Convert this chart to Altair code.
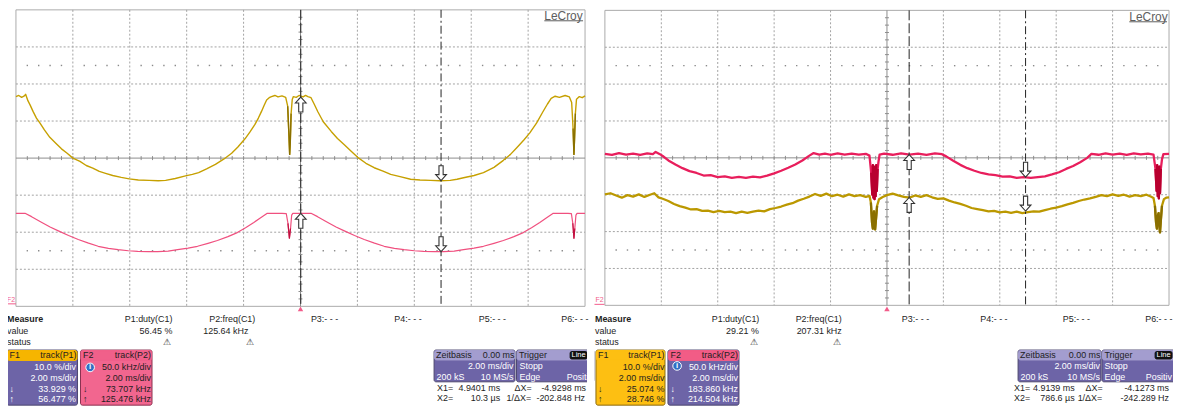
import altair as alt
import pandas as pd

# ---------------- values read from the two LeCroy screens ----------------
# time in ms (2 ms/div, -10..10), F1 = duty cycle in %, F2 = frequency in kHz
L_DUTY = [(-10.0,56.6),(-9.9,56.9),(-9.8,56.4),(-9.72,56.7),(-9.66,57.2),(-9.58,55.5),(-9.5,54.3),(-9.4,52.6),(-9.28,50.8),(-9.16,49.5),
          (-9.0,47.6),(-8.81,45.6),(-8.6,44.0),(-8.4,42.5),(-8.2,41.3),(-8.0,40.0),(-7.75,39.1),(-7.53,38.0),(-7.3,37.3),(-7.07,36.4),
          (-6.85,35.9),(-6.6,35.3),(-6.3,34.8),(-6.02,34.4),(-5.7,34.1),(-5.32,34.0),(-5.0,33.9),(-4.74,34.0),(-4.4,34.5),(-4.04,35.2),
          (-3.8,35.6),(-3.58,36.1),(-3.3,37.1),(-2.99,38.3),(-2.7,39.7),(-2.42,41.3),(-2.2,43.0),(-1.95,45.2),(-1.78,47.0),(-1.6,49.1),
          (-1.48,50.8),(-1.37,52.6),(-1.28,54.2),(-1.19,55.7),(-1.1,56.3),(-1.02,56.6),(-0.9,56.9),(-0.79,56.5),(-0.65,56.8),(-0.52,56.4),
          (-0.45,54.0),(-0.41,47.0),(-0.38,41.0),(-0.36,44.0),(-0.33,52.0),(-0.29,55.8),(-0.25,56.6),(-0.15,56.4),(-0.05,56.9),(0.09,56.5),
          (0.18,56.9),(0.26,56.6),(0.37,56.3),(0.48,54.6),(0.61,52.5),(0.8,49.8),(1.08,47.2),(1.3,45.3),(1.54,43.6),(1.8,41.7),
          (2.01,40.2),(2.3,38.6),(2.59,37.4),(2.9,36.5),(3.17,35.6),(3.5,35.0),(3.87,34.3),(4.2,34.1),(4.57,34.0),(4.9,33.9),
          (5.26,34.0),(5.5,34.3),(5.73,34.7),(6.1,35.3),(6.43,36.1),(6.8,37.5),(7.13,39.4),(7.38,41.0),(7.6,42.8),(7.85,44.9),
          (8.06,46.8),(8.3,49.5),(8.52,52.5),(8.68,54.6),(8.81,56.1),(8.95,56.7),(9.1,56.4),(9.3,56.9),(9.45,56.5),(9.53,55.0),
          (9.58,48.0),(9.61,41.0),(9.63,45.0),(9.66,52.0),(9.7,55.9),(9.8,56.6),(9.9,56.3),(10.0,56.8)]

L_FREQ = [(-10.0,125.4),(-9.68,125.5),(-9.45,121.0),(-9.09,113.2),(-8.8,107.0),(-8.51,101.8),(-8.15,95.5),(-7.81,90.2),(-7.45,85.2),(-7.11,81.0),
          (-6.75,78.3),(-6.41,76.4),(-6.05,75.0),(-5.72,74.2),(-5.35,73.8),(-5.02,73.8),(-4.65,74.5),(-4.32,76.4),(-3.95,78.5),(-3.62,81.0),
          (-3.25,85.0),(-2.92,88.8),(-2.55,94.0),(-2.22,99.5),(-1.93,106.0),(-1.64,113.2),(-1.4,119.5),(-1.18,125.3),(-0.95,125.6),(-0.65,125.4),
          (-0.5,125.0),(-0.44,112.0),(-0.39,92.0),(-0.35,105.0),(-0.31,123.0),(-0.27,125.5),(0.0,125.5),(0.2,125.4),(0.37,125.5),(0.6,121.0),
          (0.96,113.2),(1.25,107.0),(1.54,101.8),(1.9,95.5),(2.24,90.2),(2.6,85.2),(2.94,81.0),(3.3,78.3),(3.64,76.4),(4.0,75.0),
          (4.33,74.2),(4.7,73.8),(5.03,73.8),(5.4,74.5),(5.73,76.4),(6.1,78.5),(6.43,81.0),(6.8,85.0),(7.13,88.8),(7.5,94.0),
          (7.83,99.5),(8.12,106.0),(8.41,113.2),(8.65,119.5),(8.87,125.3),(9.1,125.6),(9.4,125.4),(9.52,125.0),(9.57,112.0),(9.61,92.0),
          (9.64,105.0),(9.68,123.0),(9.72,125.5),(10.0,125.4)]

R_DUTY = [(-10.0,29.6),(-9.8,29.9),(-9.6,29.3),(-9.4,28.7),(-9.2,29.4),(-9.0,29.0),(-8.8,29.6),(-8.6,28.9),(-8.4,29.5),(-8.25,29.9),
          (-8.1,28.8),(-7.95,28.4),(-7.75,27.8),(-7.55,27.0),(-7.35,26.4),(-7.15,26.0),(-6.95,25.5),(-6.75,25.6),(-6.55,25.1),(-6.35,25.2),
          (-6.15,24.8),(-5.95,25.1),(-5.75,24.8),(-5.55,24.9),(-5.35,24.5),(-5.15,24.9),(-4.95,24.6),(-4.75,24.9),(-4.55,25.2),(-4.35,25.0),
          (-4.15,25.6),(-3.95,25.9),(-3.75,26.3),(-3.55,26.8),(-3.35,27.2),(-3.15,27.9),(-2.95,28.4),(-2.75,29.0),(-2.55,29.7),(-2.35,29.2),
          (-2.15,29.8),(-1.95,29.1),(-1.75,29.5),(-1.55,29.0),(-1.35,29.6),(-1.15,29.1),(-0.95,29.4),(-0.75,28.9),(-0.62,29.2),(-0.57,27.4),
          (-0.53,22.0),(-0.5,20.3),(-0.48,23.5),(-0.46,25.0),(-0.44,21.5),(-0.42,20.1),(-0.39,22.8),(-0.35,26.5),(-0.28,28.3),(-0.15,28.9),
          (0.0,29.4),(0.2,29.8),(0.4,29.3),(0.6,28.9),(0.8,28.7),(1.0,29.3),(1.2,28.9),(1.4,29.4),(1.6,28.8),(1.8,28.4),
          (2.0,28.5),(2.2,27.9),(2.4,27.4),(2.6,27.0),(2.8,26.5),(3.0,25.9),(3.2,25.6),(3.4,25.3),(3.6,25.0),(3.8,25.1),
          (4.0,24.7),(4.2,24.9),(4.4,24.6),(4.6,24.9),(4.8,24.5),(5.0,24.8),(5.2,25.0),(5.4,24.9),(5.6,25.3),(5.8,25.7),
          (6.0,26.0),(6.2,26.4),(6.4,26.9),(6.6,27.3),(6.8,27.8),(7.0,28.2),(7.2,28.5),(7.4,28.9),(7.6,29.4),(7.8,29.1),
          (8.0,29.6),(8.2,29.2),(8.4,29.5),(8.6,29.0),(8.8,29.4),(9.0,29.1),(9.2,29.5),(9.35,29.0),(9.45,28.6),(9.5,26.5),
          (9.54,22.0),(9.57,20.3),(9.6,23.8),(9.63,24.5),(9.66,21.0),(9.68,19.3),(9.71,22.5),(9.75,26.5),(9.82,28.3),(9.9,28.7),
          (10.0,28.8)]

R_FREQ = [(-10.0,215.5),(-9.75,214.0),(-9.5,216.5),(-9.25,214.5),(-9.0,215.8),(-8.75,214.2),(-8.5,216.0),(-8.3,215.0),(-8.2,218.0),(-8.05,215.0),
          (-7.95,212.5),(-7.75,206.5),(-7.5,201.0),(-7.25,196.0),(-7.0,192.0),(-6.75,189.5),(-6.5,186.0),(-6.25,186.5),(-6.0,184.0),(-5.75,185.0),
          (-5.5,183.0),(-5.25,184.2),(-5.0,182.8),(-4.75,184.5),(-4.5,183.5),(-4.25,186.0),(-4.0,189.0),(-3.75,192.5),(-3.5,196.5),(-3.25,201.0),
          (-3.0,206.5),(-2.75,213.0),(-2.6,216.5),(-2.4,214.5),(-2.2,215.8),(-2.0,214.2),(-1.75,216.0),(-1.5,214.5),(-1.25,215.8),(-1.0,214.3),
          (-0.75,215.5),(-0.62,213.0),(-0.56,190.0),(-0.52,160.0),(-0.5,200.0),(-0.48,156.0),(-0.46,198.0),(-0.44,154.0),(-0.42,196.0),(-0.4,158.0),
          (-0.38,200.0),(-0.36,165.0),(-0.33,195.0),(-0.3,205.0),(-0.26,214.5),(-0.1,215.8),(0.2,214.2),(0.5,216.2),(0.8,214.5),(1.1,215.8),
          (1.4,214.0),(1.7,216.0),(1.95,215.0),(2.1,212.0),(2.35,206.0),(2.6,200.5),(2.85,196.0),(3.1,192.5),(3.35,189.5),(3.6,187.5),
          (3.85,186.5),(4.1,184.5),(4.35,185.0),(4.6,183.0),(4.85,184.0),(5.1,182.8),(5.35,184.0),(5.6,185.0),(5.85,187.5),(6.1,190.5),
          (6.35,195.0),(6.6,199.0),(6.85,204.0),(7.1,210.0),(7.25,215.5),(7.5,214.2),(7.75,216.0),(8.0,214.5),(8.25,215.8),(8.5,214.2),
          (8.75,216.0),(9.0,214.6),(9.25,215.8),(9.45,214.5),(9.52,195.0),(9.56,165.0),(9.58,200.0),(9.6,158.0),(9.62,196.0),(9.64,155.0),
          (9.66,198.0),(9.68,162.0),(9.71,195.0),(9.75,208.0),(9.8,215.0),(10.0,215.5)]

# cursor times (ms) and readouts (value at X1, value at X2)
L_CURSOR = {"X1": 4.9401, "X2": 0.0103}
L_READ_DUTY = (33.929, 56.477)
L_READ_FREQ = (73.707, 125.476)
R_CURSOR = {"X1": 4.9139, "X2": 0.7866}
R_READ_DUTY = (25.074, 28.746)
R_READ_FREQ = (183.860, 214.504)

GRID_T = [-8, -6, -4, -2, 2, 4, 6, 8]
GRID_D = [-3, -2, -1, 1, 2, 3]

# ---------------- layout / style ----------------
FONT = "Liberation Sans"
OFF = 8  # page margin
W, H = 1173, 402
L_GEOM = dict(x0=16, x1=589, y0=8.5, y1=307)
R_GEOM = dict(x0=609, x1=1177, y0=9, y1=306)
PURPLE = "#6d64a7"
LAVENDER = "#a39dcf"
PINK = "#f2668f"
ORANGE = "#f6b500"
YELLOW = "#fdbf12"
BOXLINE = "#4d4870"
DARK = "#1e1e1e"

UP = "M0,0 L0.36,0.4 L0.14,0.4 L0.14,1 L-0.14,1 L-0.14,0.4 L-0.36,0.4 Z"
DOWN = "M0,0 L0.36,-0.4 L0.14,-0.4 L0.14,-1 L-0.14,-1 L-0.14,-0.4 L-0.36,-0.4 Z"


def px(v):
    return v - OFF


ONE = pd.DataFrame({"k": [0]})


def xs(g):
    return alt.Scale(domain=[-10, 10], range=[px(g["x0"]), px(g["x1"])], nice=False, zero=False)


def ys(g, lo, hi):
    return alt.Scale(domain=[lo, hi], range=[px(g["y1"]), px(g["y0"])], nice=False, zero=False)


def grid_layers(g, pink_tag_xy, logo):
    L = []
    X = lambda: alt.X("t:Q", scale=xs(g), axis=None)
    D = lambda: alt.Y("d:Q", scale=ys(g, -4, 4), axis=None)
    x0, x1, y0, y1 = px(g["x0"]), px(g["x1"]), px(g["y0"]), px(g["y1"])
    cx, cy = (x0 + x1) / 2, (y0 + y1) / 2
    L.append(alt.Chart(ONE).mark_rect(filled=False, stroke="#aaaaaa", strokeWidth=1).encode(
        x=alt.value(x0), x2=alt.value(x1), y=alt.value(y0), y2=alt.value(y1)))
    L.append(alt.Chart(pd.DataFrame({"t": GRID_T})).mark_rule(color="#a2a2a2", strokeDash=[2, 2], strokeWidth=1).encode(
        x=X(), y=alt.value(y0), y2=alt.value(y1)))
    L.append(alt.Chart(pd.DataFrame({"d": GRID_D})).mark_rule(color="#a2a2a2", strokeDash=[2, 2], strokeWidth=1).encode(
        y=D(), x=alt.value(x0), x2=alt.value(x1)))
    dots = [{"t": round(-10 + 0.4 * i, 2), "d": dd} for i in range(1, 50) for dd in (-2.5, 2.5) if i % 5 != 0]
    L.append(alt.Chart(pd.DataFrame(dots)).mark_square(size=2, color="#8a8a8a", opacity=1).encode(x=X(), y=D()))
    # centre axes with small ticks
    L.append(alt.Chart(pd.DataFrame({"d": [0]})).mark_rule(color="#8c8c8c", strokeWidth=1).encode(
        y=D(), x=alt.value(x0), x2=alt.value(x1)))
    L.append(alt.Chart(pd.DataFrame({"t": [0]})).mark_rule(color="#8c8c8c", strokeWidth=1).encode(
        x=X(), y=alt.value(y0), y2=alt.value(y1)))
    ticks_t = [round(-10 + 0.4 * i, 2) for i in range(1, 50)]
    L.append(alt.Chart(pd.DataFrame({"t": ticks_t})).mark_rule(color="#8c8c8c", strokeWidth=1).encode(
        x=X(), y=alt.value(cy - 2), y2=alt.value(cy + 2)))
    ticks_d = [round(-4 + 0.2 * i, 2) for i in range(1, 40)]
    L.append(alt.Chart(pd.DataFrame({"d": ticks_d})).mark_rule(color="#8c8c8c", strokeWidth=1).encode(
        y=D(), x=alt.value(cx - 2), x2=alt.value(cx + 2)))
    # trigger marker
    L.append(alt.Chart(pd.DataFrame({"t": [0]})).mark_point(shape="triangle-up", filled=True, color="#f25c8a",
                                                            size=30, opacity=1).encode(x=X(), y=alt.value(px(309.5))))
    # LeCroy logo
    L.append(alt.Chart(ONE).mark_text(text="LeCroy", font=FONT, fontSize=12, color="#5e5e5e", align="left",
                                      baseline="middle").encode(x=alt.value(px(logo[0])), y=alt.value(px(logo[2]))))
    L.append(alt.Chart(ONE).mark_rule(color="#5e5e5e", strokeWidth=1).encode(
        x=alt.value(px(logo[0])), x2=alt.value(px(logo[1])), y=alt.value(px(logo[2] + 5))))
    # F2 tag bottom-left
    L.append(alt.Chart(ONE).mark_text(text="F2", font=FONT, fontSize=7, color="#f25c8a", align="center",
                                      baseline="middle").encode(x=alt.value(px(pink_tag_xy[0])), y=alt.value(px(pink_tag_xy[1]))))
    L.append(alt.Chart(ONE).mark_rule(color="#f25c8a", strokeWidth=1).encode(
        x=alt.value(px(pink_tag_xy[0] - 5)), x2=alt.value(px(pink_tag_xy[0] + 5)), y=alt.value(px(pink_tag_xy[1] + 4))))
    return L


def cursor_layers(g, cursors):
    X = lambda: alt.X("t:Q", scale=xs(g), axis=None)
    y0, y1 = px(g["y0"]), px(g["y1"])
    return [
        alt.Chart(pd.DataFrame({"t": [cursors["X2"]]})).mark_rule(color="#222222", strokeDash=[10, 3], strokeWidth=1).encode(
            x=X(), y=alt.value(y0), y2=alt.value(y1)),
        alt.Chart(pd.DataFrame({"t": [cursors["X1"]]})).mark_rule(color="#222222", strokeDash=[8, 3, 2, 3], strokeWidth=1).encode(
            x=X(), y=alt.value(y0), y2=alt.value(y1)),
    ]


def trace_layers(g, pts, lo, hi, color, dark, width, dip):
    df = pd.DataFrame(pts, columns=["t", "v"])
    enc = dict(x=alt.X("t:Q", scale=xs(g), axis=None), y=alt.Y("v:Q", scale=ys(g, lo, hi), axis=None),
               order="t:Q")
    base = alt.Chart(df).mark_line(color=color, strokeWidth=width, strokeJoin="round").encode(**enc)
    deep = alt.Chart(df).transform_filter(dip).transform_calculate(
        seg="datum.t < 5 ? 'a' : 'b'"
    ).mark_line(color=dark, strokeWidth=width, strokeJoin="round").encode(detail="seg:N", **enc)
    return [base, deep]


def arrow_layer(g, cursors, read, lo, hi):
    df = pd.DataFrame({"t": [cursors["X2"], cursors["X1"]], "v": [read[1], read[0]], "s": [UP, DOWN]})
    return alt.Chart(df).mark_point(filled=True, fill="#ffffff", stroke="#333333", strokeWidth=1.1, size=900,
                                    opacity=1).encode(
        x=alt.X("t:Q", scale=xs(g), axis=None), y=alt.Y("v:Q", scale=ys(g, lo, hi), axis=None),
        shape=alt.Shape("s:N", scale=None))


def texts(items, align="left", color=DARK, weight="normal", size=9):
    df = pd.DataFrame([{"s": s, "x": px(x), "y": px(y)} for s, x, y in items])
    return alt.Chart(df).mark_text(align=align, baseline="middle", color=color, fontWeight=weight, fontSize=size,
                                   font=FONT).encode(x=alt.X("x:Q", scale=None), y=alt.Y("y:Q", scale=None), text="s:N")


def rects(items, radius=2):
    df = pd.DataFrame([{"x": px(a), "x2": px(b), "y": px(c), "y2": px(d), "f": f, "s": s} for a, b, c, d, f, s in items])
    return alt.Chart(df).mark_rect(cornerRadius=radius, strokeWidth=1).encode(
        x=alt.X("x:Q", scale=None), x2="x2:Q", y=alt.Y("y:Q", scale=None), y2="y2:Q",
        fill=alt.Fill("f:N", scale=None), stroke=alt.Stroke("s:N", scale=None))


def info_icon(x, y):
    d = pd.DataFrame({"x": [px(x)], "y": [px(y)]})
    return [alt.Chart(d).mark_point(shape="circle", filled=True, fill="#2f6fc4", stroke="#ffffff", strokeWidth=1,
                                    size=75, opacity=1).encode(x=alt.X("x:Q", scale=None), y=alt.Y("y:Q", scale=None)),
            alt.Chart(d).mark_text(text="i", color="#ffffff", fontWeight="bold", fontSize=8, font=FONT,
                                   baseline="middle").encode(x=alt.X("x:Q", scale=None), y=alt.Y("y:Q", scale=None))]


layers = []
# ---------- left screen ----------
layers += grid_layers(L_GEOM, (11, 300.5), (548, 587, 14.5))
layers += trace_layers(L_GEOM, L_DUTY, 0, 80, "#c6a000", "#8a7000", 1.4,
                       "(datum.t > -0.46 && datum.t < -0.3) || (datum.t > 9.55 && datum.t < 9.68)")
layers += trace_layers(L_GEOM, L_FREQ, 0, 400, "#f0507f", "#c0103f", 1.2,
                       "(datum.t > -0.46 && datum.t < -0.32) || (datum.t > 9.55 && datum.t < 9.67)")
layers += cursor_layers(L_GEOM, L_CURSOR)
layers.append(arrow_layer(L_GEOM, L_CURSOR, L_READ_DUTY, 0, 80))
layers.append(arrow_layer(L_GEOM, L_CURSOR, L_READ_FREQ, 0, 400))

# ---------- right screen ----------
layers += grid_layers(R_GEOM, (603.5, 301), (1137, 1175, 15.5))
layers += trace_layers(R_GEOM, R_DUTY, -0.5, 79.5, "#bb9800", "#8a6f00", 2.3,
                       "(datum.t > -0.58 && datum.t < -0.33) || (datum.t > 9.48 && datum.t < 9.76)")
layers += trace_layers(R_GEOM, R_FREQ, 10, 410, "#e81e5c", "#b8002f", 2.3,
                       "(datum.t > -0.6 && datum.t < -0.3) || (datum.t > 9.5 && datum.t < 9.73)")
layers += cursor_layers(R_GEOM, R_CURSOR)
layers.append(arrow_layer(R_GEOM, R_CURSOR, R_READ_DUTY, -0.5, 79.5))
layers.append(arrow_layer(R_GEOM, R_CURSOR, R_READ_FREQ, 10, 410))

# ---------- measurement table ----------
layers.append(texts([("Measure", 7, 319.5), ("Measure", 599, 319.5)], weight="bold"))
layers.append(texts([("value", 7, 331.5), ("status", 7, 343), ("value", 599, 331.5), ("status", 599, 343),
                     ("P3:- - -", 313, 319.5), ("P4:- - -", 397, 319.5), ("P5:- - -", 482, 319.5), ("P6:- - -", 565, 319.5),
                     ("P3:- - -", 908, 319.5), ("P4:- - -", 987, 319.5), ("P5:- - -", 1070, 319.5), ("P6:- - -", 1153, 319.5),
                     ("X1=", 440, 389.5), ("ΔX=", 518, 389.5), ("X2=", 440, 399.5), ("1/ΔX=", 510, 399.5),
                     ("X1=", 1021, 389.5), ("ΔX=", 1093, 389.5), ("X2=", 1021, 399.5), ("1/ΔX=", 1085, 399.5)]))
layers.append(texts([("P1:duty(C1)", 173.5, 319.5), ("56.45 %", 173.5, 331.5), ("P2:freq(C1)", 257, 319.5),
                     ("125.64 kHz", 250, 331.5),
                     ("P1:duty(C1)", 764.5, 319.5), ("29.21 %", 764, 331.5), ("P2:freq(C1)", 847.5, 319.5),
                     ("207.31 kHz", 847.5, 331.5),
                     ("4.9401 ms", 503.5, 389.5), ("-4.9298 ms", 590, 389.5), ("10.3 µs", 503.5, 399.5),
                     ("-202.848 Hz", 589, 399.5),
                     ("4.9139 ms", 1082, 389.5), ("-4.1273 ms", 1177, 389.5), ("786.6 µs", 1082, 399.5),
                     ("-242.289 Hz", 1177, 399.5)], align="right"))
layers.append(texts([("⚠", 168, 343), ("⚠", 252, 343), ("⚠", 759.5, 343), ("⚠", 842.5, 343)], align="center", size=9))

# ---------- function / timebase boxes ----------
layers.append(rects([
    (7, 78, 351, 406.5, PURPLE, BOXLINE), (81, 153, 351, 406.5, PINK, "#8a3050"),
    (437, 518.5, 351, 383, PURPLE, BOXLINE), (520, 598, 351, 383, PURPLE, BOXLINE),
    (600, 669.5, 351, 406.5, YELLOW, "#8a6a10"), (672.5, 744, 351, 406.5, PURPLE, BOXLINE),
    (1025, 1108.5, 351, 383, PURPLE, BOXLINE), (1109.5, 1185, 351, 383, PURPLE, BOXLINE)]))
layers.append(rects([
    (7.5, 77.5, 351.5, 361.5, ORANGE, ORANGE), (81.5, 152.5, 351.5, 361.5, "#f0608a", "#f0608a"),
    (437.5, 518, 351.5, 361, LAVENDER, LAVENDER), (520.5, 597.5, 351.5, 361, LAVENDER, LAVENDER),
    (600.5, 669, 351.5, 361.5, YELLOW, YELLOW), (673, 743.5, 351.5, 361.5, "#f25c86", "#f25c86"),
    (1025.5, 1108, 351.5, 361, LAVENDER, LAVENDER), (1110, 1184, 351.5, 361, LAVENDER, LAVENDER)]))
layers.append(rects([(574, 591, 352.5, 360, "#111111", "#111111"), (1163, 1180, 352.5, 360, "#111111", "#111111")],
                    radius=1.5))
# header / light-box texts (dark)
layers.append(texts([("F1", 9.5, 356.5), ("F2", 83.5, 356.5), ("Zeitbasis", 439, 356), ("Trigger", 522.5, 356),
                     ("F1", 602, 356.5), ("F2", 675, 356.5), ("Zeitbasis", 1027, 356), ("Trigger", 1112, 356),
                     ("↓", 83.5, 390.5), ("↑", 83.5, 400), ("↓", 602, 390.5), ("↑", 602, 400)]))
layers.append(texts([("track(P1)", 77, 356.5), ("track(P2)", 152, 356.5), ("0.00 ms", 518, 356),
                     ("track(P1)", 669, 356.5), ("track(P2)", 743, 356.5), ("0.00 ms", 1108, 356),
                     ("50.0 kHz/div", 152, 368.5), ("2.00 ms/div", 152, 379.5), ("73.707 kHz", 152, 390.5),
                     ("125.476 kHz", 152, 400),
                     ("10.0 %/div", 669, 368.5), ("2.00 ms/div", 669, 379.5), ("25.074 %", 669, 390.5),
                     ("28.746 %", 669, 400)], align="right"))
# body texts (white)
layers.append(texts([("↓", 9.5, 390.5), ("↑", 9.5, 400), ("200 kS", 439.5, 378), ("Stopp", 523, 367.5),
                     ("Edge", 523, 378), ("↓", 675, 390.5), ("↑", 675, 400), ("200 kS", 1027.5, 378),
                     ("Stopp", 1112, 367.5), ("Edge", 1112, 378)], color="#ffffff"))
layers.append(texts([("10.0 %/div", 76.5, 368.5), ("2.00 ms/div", 76.5, 379.5), ("33.929 %", 76.5, 390.5),
                     ("56.477 %", 76.5, 400), ("2.00 ms/div", 517, 367.5), ("10 MS/s", 517, 378),
                     ("Positiv", 597, 378),
                     ("50.0 kHz/div", 743, 368.5), ("2.00 ms/div", 743, 379.5), ("183.860 kHz", 743, 390.5),
                     ("214.504 kHz", 743, 400), ("2.00 ms/div", 1107.5, 367.5), ("10 MS/s", 1107.5, 378),
                     ("Positiv", 1180, 378)], align="right", color="#ffffff"))
layers.append(texts([("Line", 582.5, 356.5), ("Line", 1171.5, 356.5)], align="center", color="#ffffff", size=7.5))
layers += info_icon(90.7, 368.5)
layers += info_icon(681.7, 367)
# gap between the two screenshots
layers.append(rects([(591.5, 598, 345, 410, "#ffffff", "#ffffff")], radius=0))

chart = alt.layer(*layers).resolve_scale(
    x="independent", y="independent"
).properties(
    width=W, height=H, autosize=alt.AutoSizeParams(type="none"), padding=0
).configure_view(stroke="transparent")

chart.save("out.html", embed_options={"renderer": "svg", "actions": False})
